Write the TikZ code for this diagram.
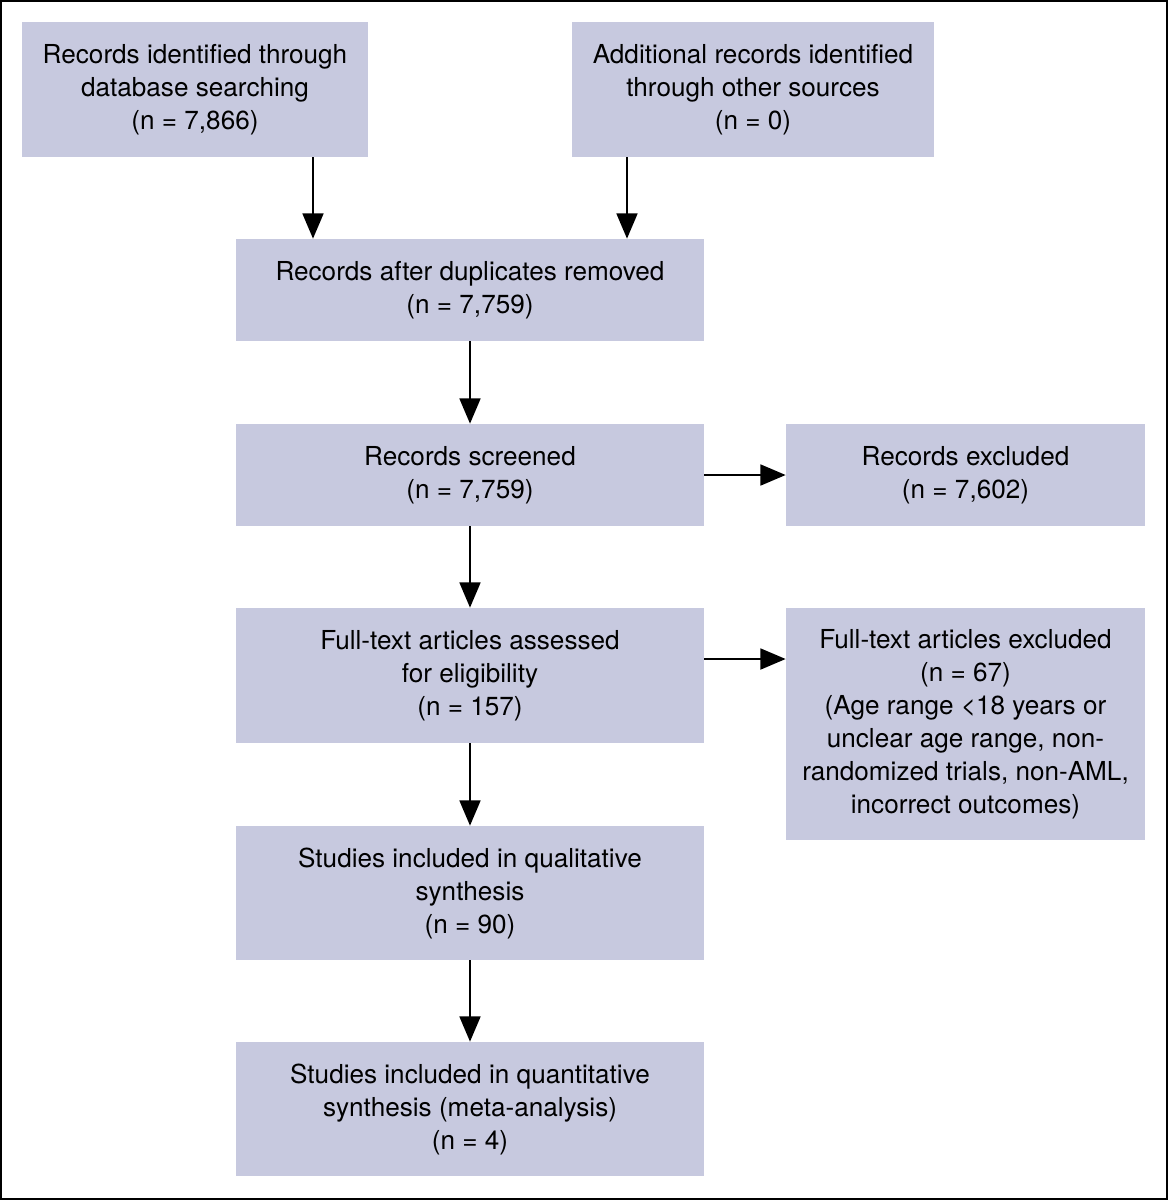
\documentclass[tikz,border=0pt]{standalone}
\usepackage{fontspec}
\setmainfont{TeX Gyre Heros}
\usetikzlibrary{arrows.meta}
\definecolor{boxfill}{RGB}{199,201,223}
\tikzset{
  fbox/.style={fill=boxfill, draw=none, inner sep=0pt, align=center,
    font=\fontsize{19.6}{24.75}\selectfont},
  arr/.style={line width=2.2pt, -{Triangle[length=19pt,width=15.5pt]}}
}
\begin{document}
\begin{tikzpicture}[x=0.75pt,y=-0.75pt]
\useasboundingbox (0,0) rectangle (1168,1200);
\draw[line width=1.5pt] (1,1) rectangle (1167,1199);
\node[fbox, minimum width=346*0.75pt, minimum height=135*0.75pt] (A) at (195,89.5)
  {Records identified through\\database searching\\(n = 7,866)};
\node[fbox, minimum width=362*0.75pt, minimum height=135*0.75pt] (B) at (753,89.5)
  {Additional records identified\\through other sources\\(n = 0)};
\node[fbox, minimum width=468*0.75pt, minimum height=102*0.75pt] (C) at (470,290)
  {Records after duplicates removed\\(n = 7,759)};
\node[fbox, minimum width=468*0.75pt, minimum height=102*0.75pt] (D) at (470,475)
  {Records screened\\(n = 7,759)};
\node[fbox, minimum width=359*0.75pt, minimum height=102*0.75pt] (E) at (965.5,475)
  {Records excluded\\(n = 7,602)};
\node[fbox, minimum width=468*0.75pt, minimum height=135*0.75pt] (F) at (470,675.5)
  {Full-text articles assessed\\for eligibility\\(n = 157)};
\node[fbox, minimum width=359*0.75pt, minimum height=232*0.75pt] (G) at (965.5,724)
  {Full-text articles excluded\\(n = 67)\\(Age range <18 years or\\unclear age range, non-\\randomized trials, non-AML,\\incorrect outcomes)};
\node[fbox, minimum width=468*0.75pt, minimum height=134*0.75pt] (H) at (470,893)
  {Studies included in qualitative\\synthesis\\(n = 90)};
\node[fbox, minimum width=468*0.75pt, minimum height=134*0.75pt] (I) at (470,1109)
  {Studies included in quantitative\\synthesis (meta-analysis)\\(n = 4)};
\coordinate (xa) at (313,0);
\coordinate (xb) at (627,0);
\coordinate (yf) at (0,659);
\draw[arr] (A.south -| xa) -- (C.north -| xa);
\draw[arr] (B.south -| xb) -- (C.north -| xb);
\draw[arr] (C) -- (D);
\draw[arr] (D) -- (E);
\draw[arr] (D) -- (F);
\draw[arr] (F.east |- yf) -- (G.west |- yf);
\draw[arr] (F) -- (H);
\draw[arr] (H) -- (I);
\end{tikzpicture}
\end{document}
